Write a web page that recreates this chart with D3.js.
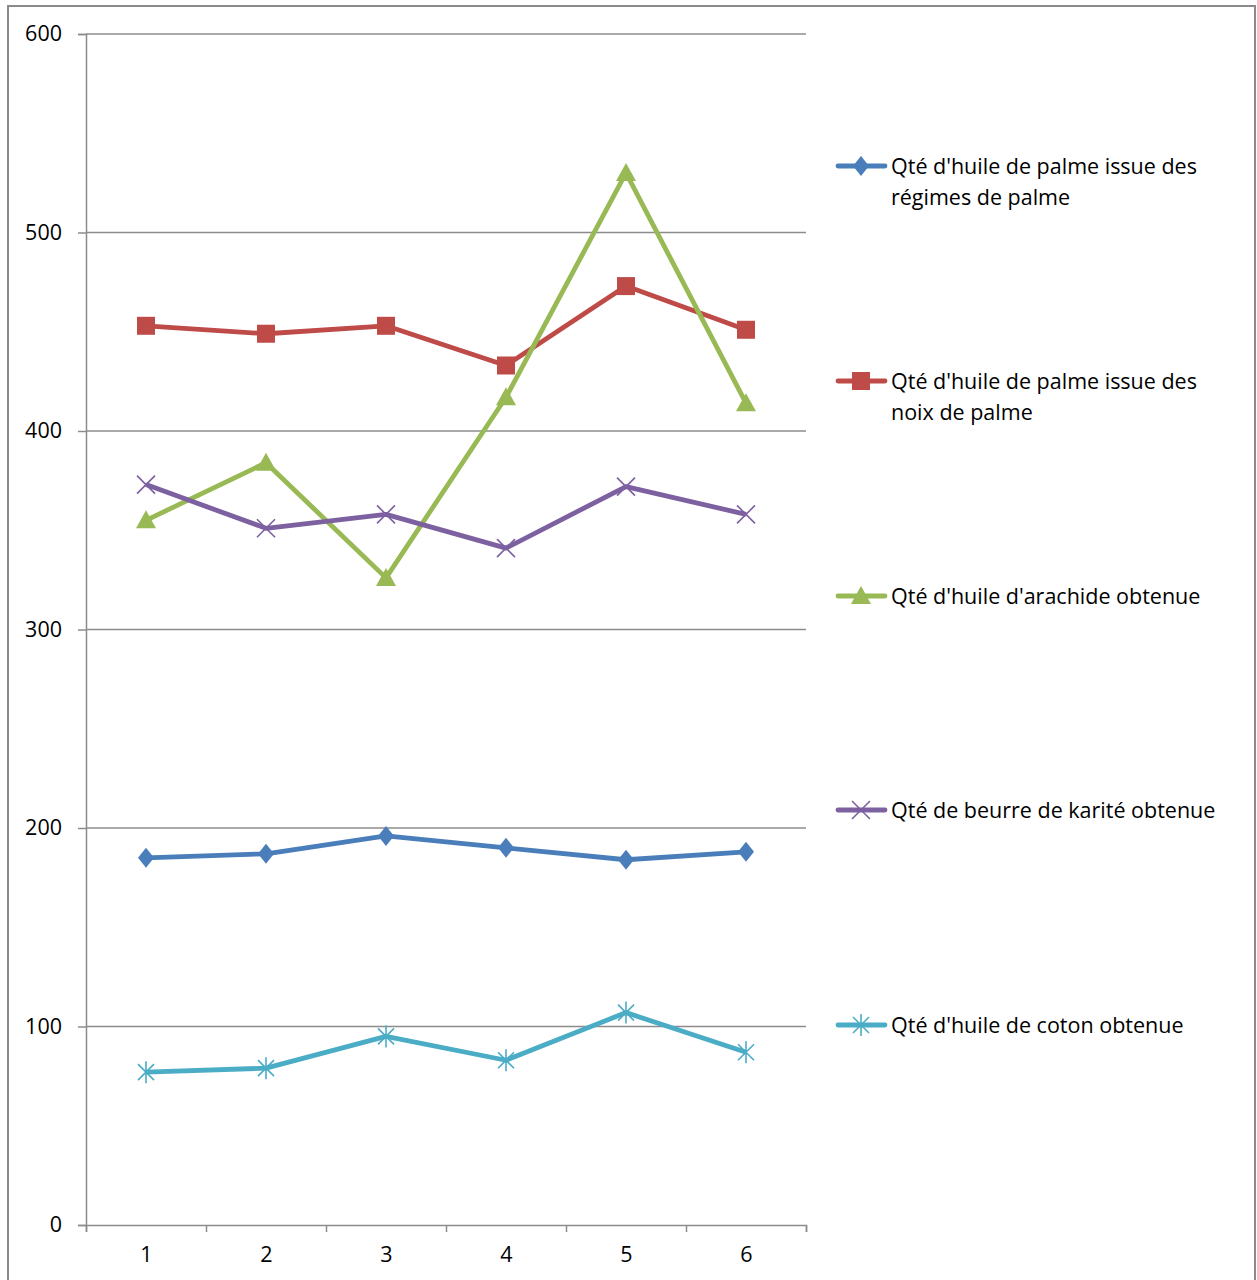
<!DOCTYPE html>
<html>
<head>
<meta charset="utf-8">
<script src="https://cdn.jsdelivr.net/npm/d3@7"></script>
<style>
  html, body { margin: 0; padding: 0; background: #fff; }
  svg { display: block; }
  text { font-family: "Open Sans", Lato, sans-serif; fill: #000; }
</style>
</head>
<body>
<svg id="chart" width="1257" height="1280"></svg>
<script>
// Production runs 1 to 6
const categories = [1, 2, 3, 4, 5, 6];
const yTicks = [0, 100, 200, 300, 400, 500, 600];

const seriesNames = [
  ["Qté d'huile de palme issue des", "régimes de palme"],
  ["Qté d'huile de palme issue des", "noix de palme"],
  ["Qté d'huile d'arachide obtenue"],
  ["Qté de beurre de karité obtenue"],
  ["Qté d'huile de coton obtenue"]
];
const palmeRegimes = [185, 187, 196, 190, 184, 188];
const palmeNoix    = [453, 449, 453, 433, 473, 451];
const arachide     = [355, 384, 326, 417, 530, 414];
const karite       = [373, 351, 358, 341, 372, 358];
const coton        = [77, 79, 95, 83, 107, 87];

const seriesValues = [palmeRegimes, palmeNoix, arachide, karite, coton];
const seriesColors = ["#4A7EBB", "#BE4B48", "#98B954", "#7D60A0", "#4BACC6"];
const seriesMarkers = ["diamond", "square", "triangle", "cross", "star"];
const legendY = [166, 381, 596, 810, 1025];

const svg = d3.select("#chart");

// Outer frame
svg.append("rect")
  .attr("x", 8).attr("y", 6)
  .attr("width", 1247).attr("height", 1290)
  .attr("fill", "none").attr("stroke", "#8a8a8a").attr("stroke-width", 2);

const plotLeft = 86, plotRight = 806, plotTop = 34, plotBottom = 1225;
const x = d3.scaleLinear().domain([0.5, 6.5]).range([plotLeft, plotRight]);
const y = d3.scaleLinear().domain([0, 600]).range([plotBottom, plotTop]);

// Horizontal gridlines
svg.append("g").selectAll("line")
  .data(yTicks.filter(d => d > 0))
  .join("line")
  .attr("x1", plotLeft).attr("x2", plotRight)
  .attr("y1", d => y(d)).attr("y2", d => y(d))
  .attr("stroke", "#8c8c8c").attr("stroke-width", 1.5);

// Y axis
const yAxis = svg.append("g")
  .attr("transform", `translate(${plotLeft},0)`)
  .call(d3.axisLeft(y).tickValues(yTicks).tickSize(8).tickPadding(16));
yAxis.select(".domain").attr("stroke", "#8c8c8c").attr("stroke-width", 1.5);
yAxis.selectAll(".tick line").attr("stroke", "#8c8c8c").attr("stroke-width", 1.5);
yAxis.selectAll(".tick text")
  .style("font-family", "'Open Sans', Lato, sans-serif")
  .attr("font-size", 21.5).attr("fill", "#000");

// X axis: tick marks at category boundaries, labels at category centres
const xAxis = svg.append("g")
  .attr("transform", `translate(0,${plotBottom})`)
  .call(d3.axisBottom(x)
    .tickValues(d3.range(0.5, 7, 1))
    .tickSize(7)
    .tickFormat(""));
xAxis.select(".domain").attr("stroke", "#8c8c8c").attr("stroke-width", 1.5);
xAxis.selectAll(".tick line").attr("stroke", "#8c8c8c").attr("stroke-width", 1.5);

const xLabels = svg.append("g")
  .attr("transform", `translate(0,${plotBottom})`)
  .call(d3.axisBottom(x).tickValues(categories).tickSize(0).tickPadding(22).tickFormat(d3.format("d")));
xLabels.select(".domain").remove();
xLabels.selectAll(".tick text")
  .style("font-family", "'Open Sans', Lato, sans-serif")
  .attr("font-size", 21.5).attr("fill", "#000");

// Marker drawing
function drawMarker(g, kind, color) {
  if (kind === "diamond") {
    g.append("path").attr("d", "M0,-10 L8,0 L0,10 L-8,0 Z").attr("fill", color);
  } else if (kind === "square") {
    g.append("rect").attr("x", -9).attr("y", -9).attr("width", 18).attr("height", 18).attr("fill", color);
  } else if (kind === "triangle") {
    g.append("path").attr("d", "M0,-10 L10,8 L-10,8 Z").attr("fill", color);
  } else if (kind === "cross") {
    g.append("path").attr("d", "M-9,-9 L9,9 M-9,9 L9,-9")
      .attr("stroke", color).attr("stroke-width", 1.6).attr("fill", "none");
  } else if (kind === "star") {
    g.append("path").attr("d", "M-8,-8 L8,8 M-8,8 L8,-8 M0,-11 L0,11")
      .attr("stroke", color).attr("stroke-width", 1.6).attr("fill", "none");
  }
}

const line = d3.line().x((d, i) => x(categories[i])).y(d => y(d));

seriesValues.forEach((vals, s) => {
  const g = svg.append("g");
  g.append("path")
    .attr("d", line(vals))
    .attr("fill", "none")
    .attr("stroke", seriesColors[s])
    .attr("stroke-width", 4.8)
    .attr("stroke-linejoin", "round");
  vals.forEach((v, i) => {
    const m = g.append("g").attr("transform", `translate(${x(categories[i])},${y(v)})`);
    drawMarker(m, seriesMarkers[s], seriesColors[s]);
  });
});

// Legend
const legend = svg.append("g");
seriesNames.forEach((lines, s) => {
  const ly = legendY[s];
  const lg = legend.append("g");
  lg.append("line")
    .attr("x1", 838).attr("x2", 885).attr("y1", ly).attr("y2", ly)
    .attr("stroke", seriesColors[s]).attr("stroke-width", 4.8).attr("stroke-linecap", "round");
  const m = lg.append("g").attr("transform", `translate(861,${ly})`);
  drawMarker(m, seriesMarkers[s], seriesColors[s]);
  lines.forEach((t, k) => {
    lg.append("text")
      .attr("x", 891).attr("y", ly + 8 + k * 31)
      .attr("font-size", 21.5)
      .text(t);
  });
});
</script>
</body>
</html>
